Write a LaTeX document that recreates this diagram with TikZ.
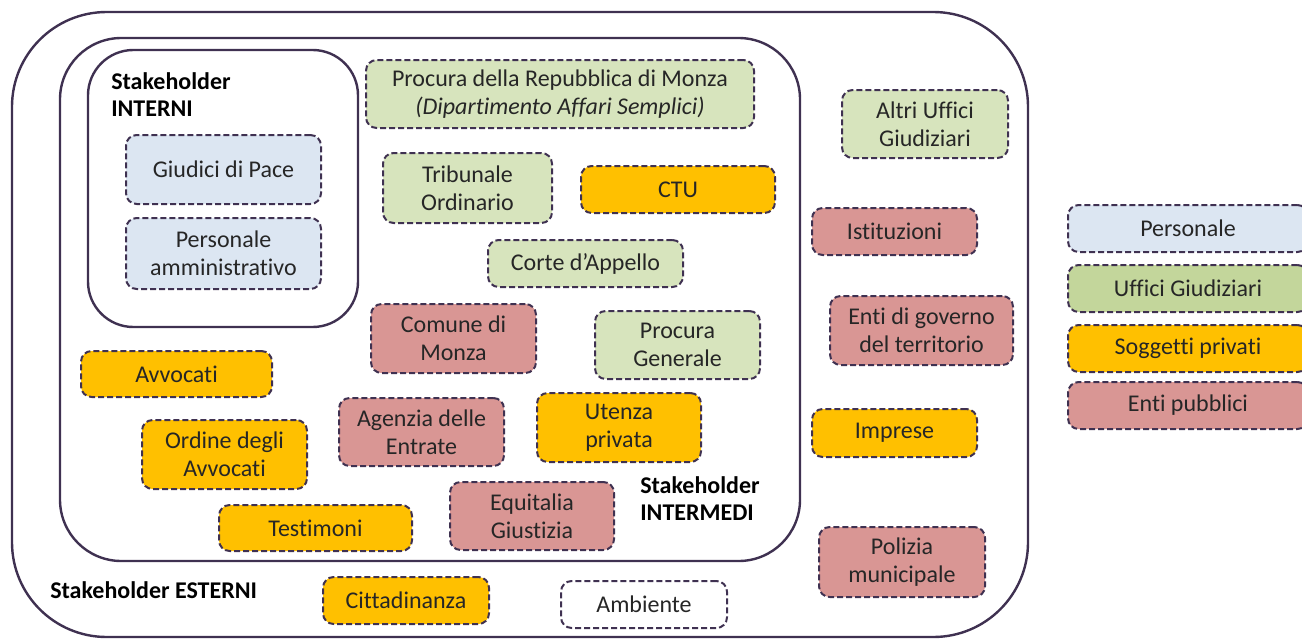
\documentclass[tikz,border=0pt]{standalone}
\usepackage{fontspec}
\setmainfont{Carlito}[Ligatures=NoCommon]
\definecolor{lineC}{HTML}{3F3151}
\definecolor{blueF}{HTML}{DCE6F2}
\definecolor{greenF}{HTML}{D7E4BD}
\definecolor{greenL}{HTML}{C3D69B}
\definecolor{orangeF}{HTML}{FFC000}
\definecolor{redF}{HTML}{D99694}
\definecolor{txtC}{HTML}{262626}
\tikzset{
  container/.style={draw=lineC, line width=1.8pt},
  stk/.style={draw=lineC, line width=1.5pt, dash pattern=on 4.5pt off 2.25pt,
    rounded corners=8pt, align=center, inner sep=0pt, text=txtC,
    font=\fontsize{18}{21}\selectfont},
  wh/.style 2 args={minimum width=#1*0.75pt, minimum height=#2*0.75pt},
  pers/.style={stk, fill=blueF},
  uff/.style={stk, fill=greenF},
  priv/.style={stk, fill=orangeF},
  pub/.style={stk, fill=redF},
  amb/.style={stk, fill=white},
  lbl/.style={font=\fontsize{18}{20.5}\selectfont\bfseries, align=left, inner sep=0pt, text=black},
}
\begin{document}
\begin{tikzpicture}[x=0.75pt, y=-0.75pt]
\useasboundingbox (0,0) rectangle (1302,639);
\clip (0,0) rectangle (1302,639);
% containers
\draw[container, rounded corners=71pt] (12,12) rectangle (1028,637);
\draw[container, rounded corners=46pt] (60,38) rectangle (800,561);
\draw[container, rounded corners=34pt] (88,50) rectangle (358,327);
% container labels
\node[lbl, anchor=north west] (lint) at (111,72) {Stakeholder\\INTERNI};
\node[lbl, anchor=north west] (lmed) at (640,476) {Stakeholder\\INTERMEDI};
\node[lbl, anchor=west] (lest) at (50,590) {Stakeholder ESTERNI};
% interni
\node[pers, wh={195}{69}] (giud) at (223.5,169.5) {Giudici di Pace};
\node[pers, wh={195}{71}] (pamm) at (223.5,253.5) {Personale\\amministrativo};
% intermedi
\node[uff, wh={388}{68}] (proc) at (560,94) {Procura della Repubblica di Monza\\\textit{(Dipartimento Affari Semplici)}};
\node[uff, wh={169}{70}] (trib) at (467.5,188) {Tribunale\\Ordinario};
\node[priv, wh={194}{47}] (ctu) at (678,189.5) {CTU};
\node[uff, wh={195}{47}] (corte) at (585.5,263.5) {Corte d’Appello};
\node[pub, wh={165}{69}] (comune) at (453.5,338.5) {Comune di\\Monza};
\node[uff, wh={165}{68}] (pgen) at (677.5,345) {Procura\\Generale};
\node[priv, wh={191}{46}] (avv) at (176.5,374) {Avvocati};
\node[pub, wh={165}{68}] (agen) at (421.5,432) {Agenzia delle\\Entrate};
\node[priv, wh={164}{69}] (utenza) at (619,427.5) {Utenza\\privata};
\node[priv, wh={165}{69}] (ordine) at (224.5,454.5) {Ordine degli\\Avvocati};
\node[pub, wh={164}{68}] (equit) at (532,516) {Equitalia\\Giustizia};
\node[priv, wh={193}{46}] (test) at (315.5,528) {Testimoni};
% esterni
\node[uff, wh={166}{68}] (altri) at (925,124) {Altri Uffici\\Giudiziari};
\node[pub, wh={165}{47}] (ist) at (894.5,231.5) {Istituzioni};
\node[pub, wh={183}{69}] (enti) at (921.5,330.5) {Enti di governo\\del territorio};
\node[priv, wh={165}{48}] (impr) at (894.5,433) {Imprese};
\node[pub, wh={166}{70}] (poliz) at (902,562) {Polizia\\municipale};
\node[priv, wh={166}{47}] (citt) at (406,600.5) {Cittadinanza};
\node[amb, wh={166}{47}] (amb) at (644,604.5) {Ambiente};
% legend
\node[pers, wh={240}{47}] (lg1) at (1188,228.5) {Personale};
\node[stk, fill=greenL, wh={240}{47}] (lg2) at (1188,288.5) {Uffici Giudiziari};
\node[priv, wh={240}{47}] (lg3) at (1188,348.5) {Soggetti privati};
\node[pub, wh={240}{47}] (lg4) at (1188,405.5) {Enti pubblici};
\end{tikzpicture}
\end{document}
